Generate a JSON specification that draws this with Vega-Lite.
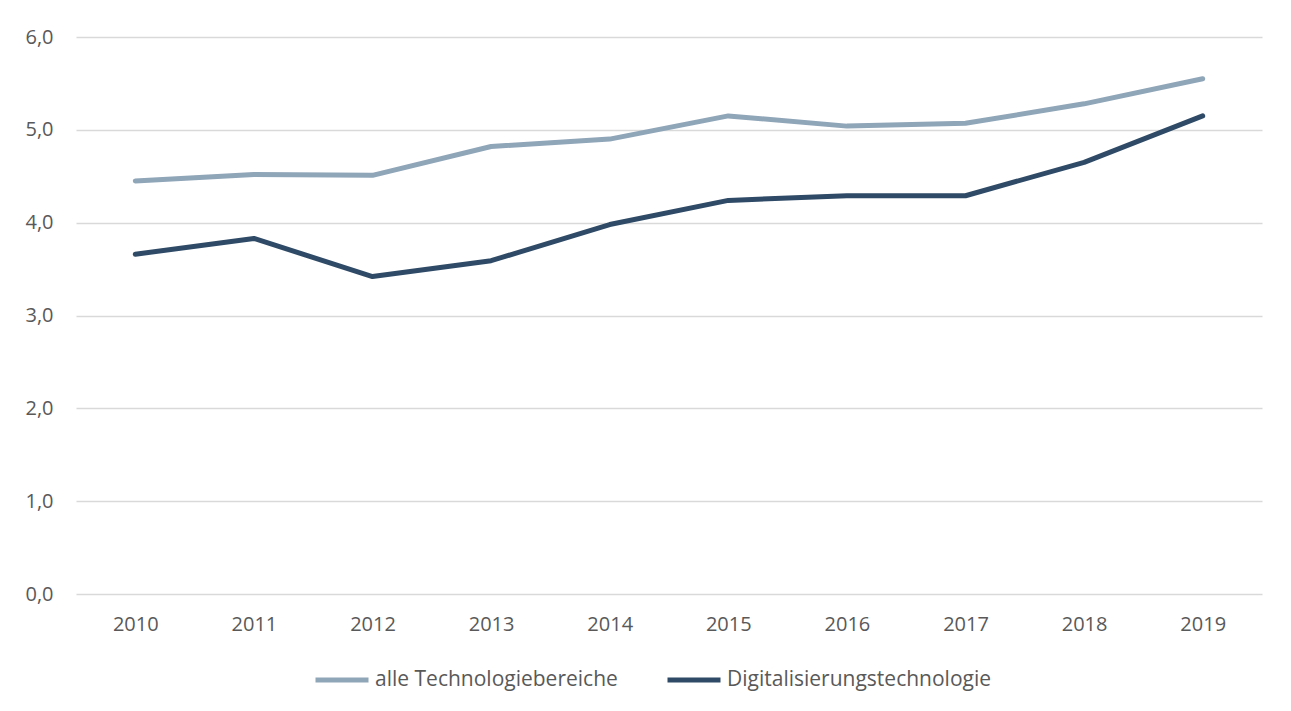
{
  "$schema": "https://vega.github.io/schema/vega-lite/v6.json",
  "width": 1186,
  "height": 557,
  "autosize": {"type": "none"},
  "padding": {"left": 76, "top": 37, "right": 29, "bottom": 117},
  "background": "#ffffff",
  "config": {
    "view": {"stroke": null},
    "font": "Open Sans",
    "axis": {"labelFont": "Open Sans", "labelColor": "#595959", "labelFontSize": 20},
    "legend": {"labelFont": "Open Sans", "labelColor": "#595959", "labelFontSize": 21}
  },
  "data": {
    "values": [
      {"Jahr": "2010", "Reihe": "alle Technologiebereiche", "Wert": 4.45},
      {"Jahr": "2011", "Reihe": "alle Technologiebereiche", "Wert": 4.52},
      {"Jahr": "2012", "Reihe": "alle Technologiebereiche", "Wert": 4.51},
      {"Jahr": "2013", "Reihe": "alle Technologiebereiche", "Wert": 4.82},
      {"Jahr": "2014", "Reihe": "alle Technologiebereiche", "Wert": 4.90},
      {"Jahr": "2015", "Reihe": "alle Technologiebereiche", "Wert": 5.15},
      {"Jahr": "2016", "Reihe": "alle Technologiebereiche", "Wert": 5.04},
      {"Jahr": "2017", "Reihe": "alle Technologiebereiche", "Wert": 5.07},
      {"Jahr": "2018", "Reihe": "alle Technologiebereiche", "Wert": 5.28},
      {"Jahr": "2019", "Reihe": "alle Technologiebereiche", "Wert": 5.55},
      {"Jahr": "2010", "Reihe": "Digitalisierungstechnologie", "Wert": 3.66},
      {"Jahr": "2011", "Reihe": "Digitalisierungstechnologie", "Wert": 3.83},
      {"Jahr": "2012", "Reihe": "Digitalisierungstechnologie", "Wert": 3.42},
      {"Jahr": "2013", "Reihe": "Digitalisierungstechnologie", "Wert": 3.59},
      {"Jahr": "2014", "Reihe": "Digitalisierungstechnologie", "Wert": 3.98},
      {"Jahr": "2015", "Reihe": "Digitalisierungstechnologie", "Wert": 4.24},
      {"Jahr": "2016", "Reihe": "Digitalisierungstechnologie", "Wert": 4.29},
      {"Jahr": "2017", "Reihe": "Digitalisierungstechnologie", "Wert": 4.29},
      {"Jahr": "2018", "Reihe": "Digitalisierungstechnologie", "Wert": 4.65},
      {"Jahr": "2019", "Reihe": "Digitalisierungstechnologie", "Wert": 5.15}
    ]
  },
  "mark": {"type": "line", "strokeWidth": 5, "strokeCap": "round", "strokeJoin": "round"},
  "encoding": {
    "x": {
      "field": "Jahr",
      "type": "ordinal",
      "scale": {"type": "point", "padding": 0.5},
      "axis": {"title": null, "labelAngle": 0, "ticks": false, "domain": false, "grid": false, "labelPadding": 20}
    },
    "y": {
      "field": "Wert",
      "type": "quantitative",
      "scale": {"domain": [0, 6], "nice": false},
      "axis": {
        "title": null,
        "values": [0, 1, 2, 3, 4, 5, 6],
        "labelExpr": "replace(format(datum.value, '.1f'), '.', ',')",
        "ticks": false,
        "domain": false,
        "grid": true,
        "gridColor": "#D9D9D9",
        "gridWidth": 1.5,
        "labelPadding": 23
      }
    },
    "color": {
      "field": "Reihe",
      "type": "nominal",
      "scale": {
        "domain": ["alle Technologiebereiche", "Digitalisierungstechnologie"],
        "range": ["#8FA5B8", "#2E4A66"]
      },
      "legend": {
        "title": null,
        "orient": "none",
        "direction": "horizontal",
        "legendX": 237,
        "legendY": 614,
        "symbolType": "stroke",
        "symbolSize": 2809,
        "symbolStrokeWidth": 5,
        "labelOffset": 4,
        "labelLimit": 0,
        "columnPadding": 39,
        "padding": 0
      }
    }
  }
}
